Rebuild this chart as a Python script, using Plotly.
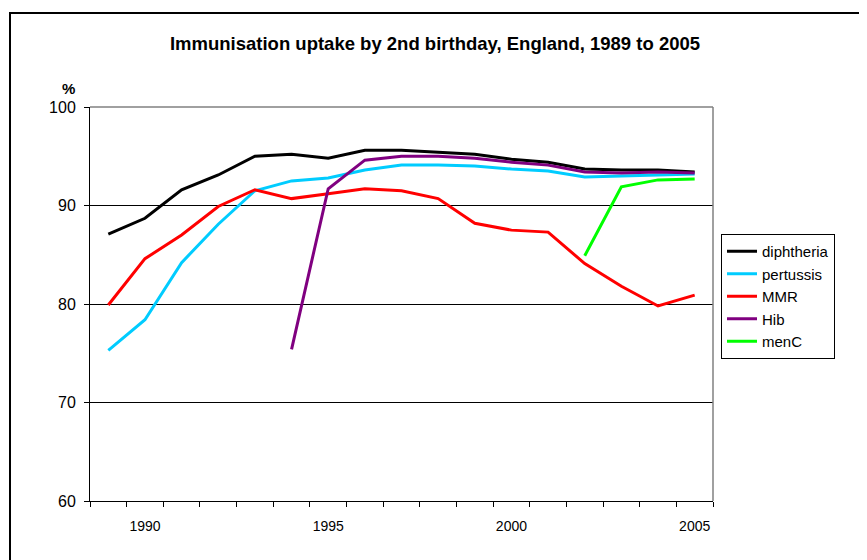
import plotly.graph_objects as go

years = list(range(1989, 2006))
diphtheria = [87.1, 88.7, 91.6, 93.1, 95.0, 95.2, 94.8, 95.6, 95.6, 95.4, 95.2, 94.7, 94.4, 93.7, 93.6, 93.6, 93.4]
pertussis = [75.3, 78.4, 84.2, 88.1, 91.5, 92.5, 92.8, 93.6, 94.1, 94.1, 94.0, 93.7, 93.5, 92.9, 93.0, 93.1, 93.2]
mmr = [79.9, 84.6, 87.0, 89.9, 91.6, 90.7, 91.2, 91.7, 91.5, 90.7, 88.2, 87.5, 87.3, 84.1, 81.8, 79.8, 80.9]
hib_years = list(range(1994, 2006))
hib = [75.4, 91.7, 94.6, 95.0, 95.0, 94.8, 94.4, 94.1, 93.4, 93.3, 93.4, 93.3]
menc_years = [2002, 2003, 2004, 2005]
menc = [84.9, 91.9, 92.6, 92.7]

label_years = [1990, 1995, 2000, 2005]
boundaries = [y - 0.5 for y in years] + [years[-1] + 0.5]

FONT = "Arial, Liberation Sans, sans-serif"

# page offset (body margin) of 8px is compensated in the margins
OFF = 8
PL, PR, PT, PB = 90, 713, 107, 501  # target plot area in page pixels
W, H = 867, 560

fig = go.Figure()
series = [
    ("diphtheria", years, diphtheria, "#000000"),
    ("pertussis", years, pertussis, "#00CCFF"),
    ("MMR", years, mmr, "#FF0000"),
    ("Hib", hib_years, hib, "#800080"),
    ("menC", menc_years, menc, "#00FF00"),
]
for name, xs, ys, col in series:
    fig.add_trace(go.Scatter(x=xs, y=ys, mode="lines", name=name,
                             line=dict(color=col, width=3)))

pw = PR - PL
ph = PB - PT

def px(x):
    return (x - PL) / pw

def py(y):
    return (PB - y) / ph

fig.update_layout(
    width=W, height=H,
    margin=dict(l=PL - OFF, r=W - (PR - OFF), t=PT - OFF, b=H - (PB - OFF), pad=0),
    paper_bgcolor="white", plot_bgcolor="white",
    font=dict(family=FONT, color="black", size=16),
    title=dict(text="<b>Immunisation uptake by 2nd birthday, England, 1989 to 2005</b>",
               x=px(435), xref="paper", xanchor="center",
               y=1 - (44 - OFF) / H, yanchor="middle",
               font=dict(size=18.5, family=FONT)),
    legend=dict(x=px(721), xanchor="left", y=py(234), yanchor="top",
                bordercolor="black", borderwidth=1, bgcolor="white",
                font=dict(size=15, family=FONT), itemwidth=30,
                tracegroupgap=0),
    showlegend=True,
)
fig.update_xaxes(
    range=[boundaries[0], boundaries[-1]],
    tickvals=label_years, ticktext=[str(y) for y in label_years],
    ticks="", showgrid=False, zeroline=False,
    showline=True, linecolor="black", linewidth=1,
    tickfont=dict(size=14, family=FONT),
    ticklabelstandoff=12,
    minor=dict(tickvals=boundaries, ticks="outside", ticklen=5, tickcolor="black", showgrid=False),
)
fig.update_yaxes(
    range=[60, 100], dtick=10, tick0=60,
    ticks="outside", ticklen=5, tickcolor="black",
    showgrid=True, gridcolor="black", gridwidth=1, zeroline=False,
    showline=True, linecolor="black", linewidth=1,
    tickfont=dict(size=16, family=FONT),
    ticklabelstandoff=5,
)
# plot area top/right border in grey
fig.add_shape(type="line", xref="paper", yref="paper", x0=0, x1=1, y0=1, y1=1,
              line=dict(color="#808080", width=1.5), layer="above")
fig.add_shape(type="line", xref="paper", yref="paper", x0=1, x1=1, y0=0, y1=1,
              line=dict(color="#808080", width=1.5), layer="above")
# outer chart border
fig.add_shape(type="rect", xref="paper", yref="paper",
              x0=px(10), x1=px(880), y0=py(580), y1=py(13),
              line=dict(color="black", width=2), fillcolor="rgba(0,0,0,0)", layer="above")
fig.add_annotation(text="<b>%</b>", xref="paper", yref="paper",
                   x=px(68), y=py(89), xanchor="center", yanchor="middle",
                   showarrow=False, font=dict(size=15, family=FONT))

fig.write_html("out.html")
